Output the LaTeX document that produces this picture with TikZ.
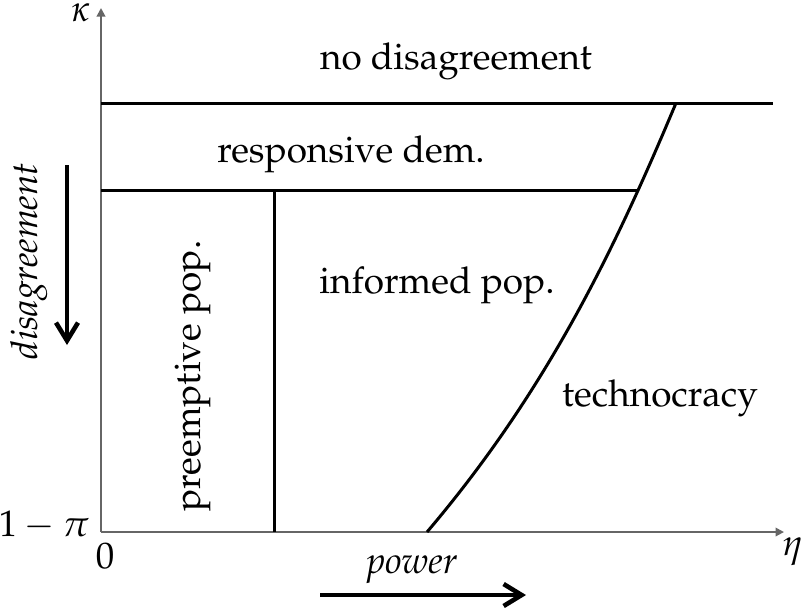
\documentclass[tikz,border=0pt]{standalone}
\usepackage[T1]{fontenc}
\usepackage{mathpazo}
\usetikzlibrary{arrows.meta}
\begin{document}
\begin{tikzpicture}[x=0.01cm,y=-0.01cm,
  lbl/.style={inner sep=0pt,font=\fontsize{10.5}{12}\selectfont},
  axis/.style={draw=black!60,line width=0.55pt,-{Triangle[length=0.85mm,width=0.85mm]}},
  bound/.style={draw=black,line width=0.85pt},
  bigarrow/.style={draw=black,line width=1.3pt,-{Straight Barb[length=1.8mm,width=2.2mm]}}]
\useasboundingbox (0,0) rectangle (801,611);
% axes
\coordinate (O) at (101,532);
\coordinate (ytip) at (101,8);
\coordinate (xtip) at (784,532);
\draw[axis] (O) -- (ytip);
\draw[axis] (O) -- (xtip);
% boundaries
\coordinate (a1) at (101,103);
\coordinate (a2) at (773,103);
\coordinate (b1) at (101,190);
\coordinate (b2) at (638,190);
\coordinate (c1) at (274,190);
\coordinate (c2) at (274,532);
\coordinate (d1) at (427,532);
\coordinate (d2) at (676,103);
\draw[bound] (a1) -- (a2);
\draw[bound] (b1) -- (b2);
\draw[bound] (c1) -- (c2);
\draw[bound] (d1) .. controls (548.5,389) and (616,246) .. (d2);
% region labels
\node[lbl,anchor=base] (nd) at (456,69) {no disagreement};
\node[lbl,anchor=base] (rd) at (351,162) {responsive dem.};
\node[lbl,anchor=base] (ip) at (437,293) {informed pop.};
\node[lbl,anchor=base] (tc) at (660,406) {technocracy};
\node[lbl,anchor=base,rotate=90] (pp) at (200,376) {preemptive pop.};
% axis labels
\node[lbl,anchor=base] (kap) at (81,21) {$\kappa$};
\node[lbl,anchor=base east] (pi) at (90,536) {$1-\pi$};
\node[lbl] (zero) at (105,556) {$0$};
\node[lbl] (eta) at (793,552) {$\eta$};
% direction arrows
\node[lbl,anchor=base,rotate=90] (dis) at (37,261) {\itshape disagreement};
\coordinate (da1) at (67,165);
\coordinate (da2) at (67,345);
\draw[bigarrow] (da1) -- (da2);
\node[lbl,anchor=base] (pow) at (412,573) {\itshape power};
\coordinate (pa1) at (320,595);
\coordinate (pa2) at (526,595);
\draw[bigarrow] (pa1) -- (pa2);
\end{tikzpicture}
\end{document}
